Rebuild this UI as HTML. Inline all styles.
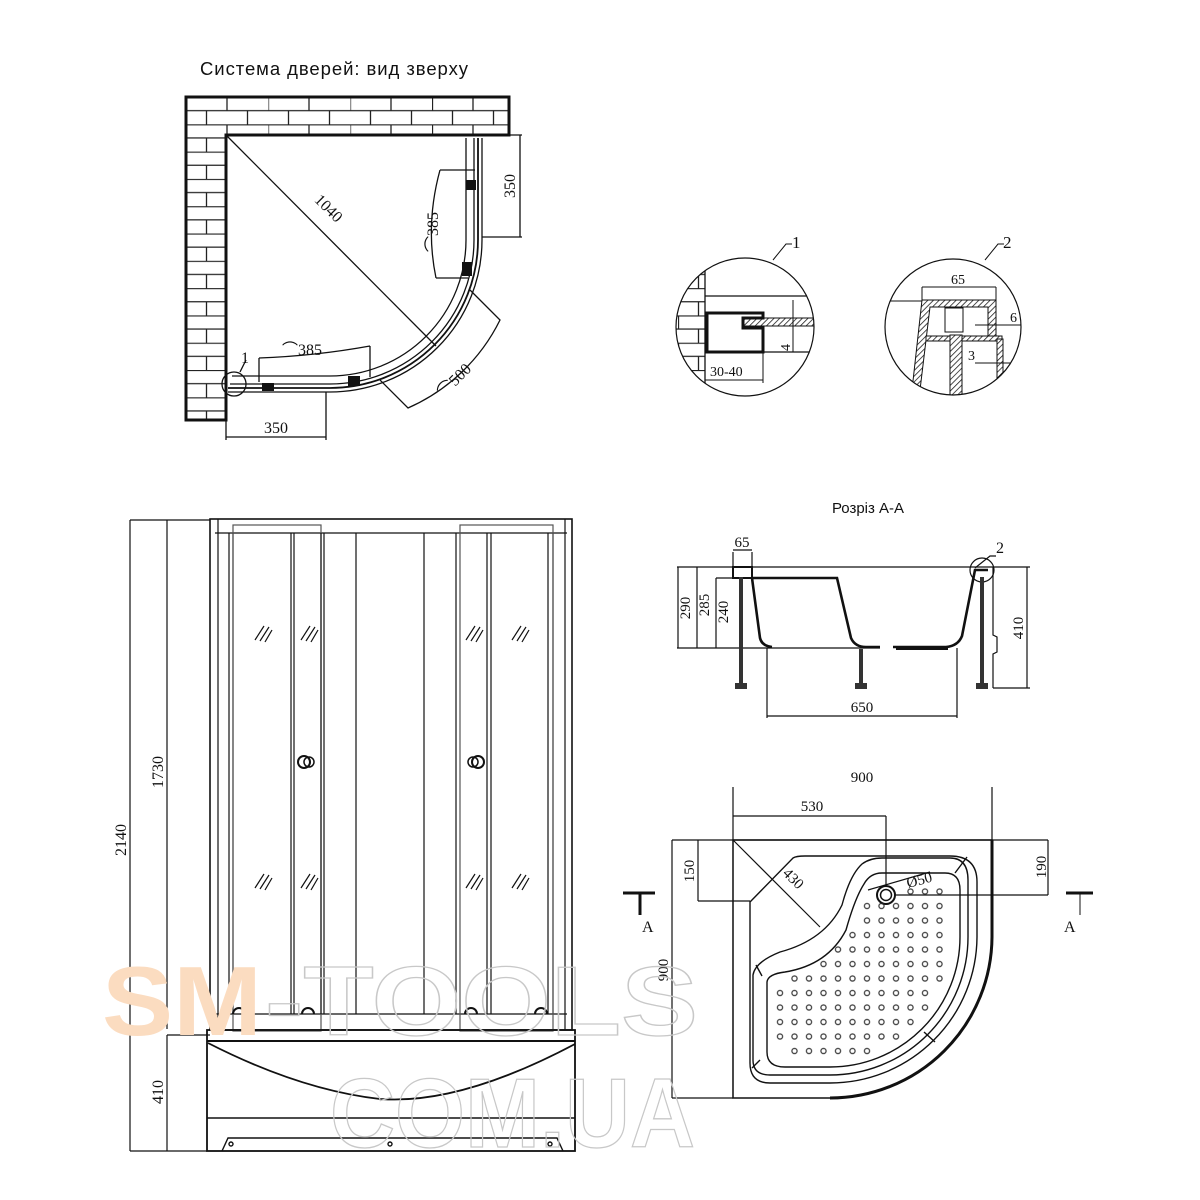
<!DOCTYPE html>
<html><head><meta charset="utf-8"><style>
html,body{margin:0;padding:0;background:#fff}
svg{display:block}
text{font-family:"Liberation Serif",serif;fill:#111}
.s{font-family:"Liberation Sans",sans-serif}
</style></head><body>
<svg width="1200" height="1200" viewBox="0 0 1200 1200" xmlns="http://www.w3.org/2000/svg">
<defs>
<pattern id="brick" patternUnits="userSpaceOnUse" x="186" y="97" width="82" height="27.3">
<rect width="82" height="27.3" fill="#fff"/>
<path d="M0 0.5H82M0 13.65H82M0.5 0V13.65M41 0V13.65M20.5 13.65V27.3M61.5 13.65V27.3" stroke="#222" stroke-width="1.3" fill="none"/>
</pattern>
<pattern id="hatch" patternUnits="userSpaceOnUse" width="4" height="4" patternTransform="rotate(45)">
<rect width="4" height="4" fill="#fff"/><line x1="0" y1="0" x2="0" y2="4" stroke="#111" stroke-width="1.5"/>
</pattern>
<pattern id="dots" patternUnits="userSpaceOnUse" x="772.75" y="898.75" width="14.5" height="14.5">
<circle cx="7.25" cy="7.25" r="2.6" fill="none" stroke="#222" stroke-width="1.1"/>
</pattern>
<clipPath id="c1"><circle cx="745" cy="327" r="69"/></clipPath>
<clipPath id="c2"><circle cx="953" cy="327" r="68"/></clipPath>
</defs>

<!-- Title -->
<text class="s" x="200" y="75" font-size="18.5" textLength="268">Система дверей: вид зверху</text>

<!-- Top view walls -->
<path d="M186 97H509V135H226V420H186Z" fill="url(#brick)" stroke="#111" stroke-width="3"/>
<g fill="none" stroke="#111" stroke-width="1.3">
<line x1="226" y1="135" x2="436" y2="346"/>
<!-- door lines -->
<path d="M466 138V240A136 136 0 0 1 330 376H232"/>
<path d="M474 138V240A144 144 0 0 1 330 384H230"/>
<path d="M478 138V240A148 148 0 0 1 330 388H228" stroke-width="1.8"/>
<path d="M482 138V240A152 152 0 0 1 330 392H228"/>
<!-- dims -->
<path d="M482 135H522M482 237H522M520 135V237"/>
<path d="M226 392V440M326 392V440M226 437H326"/>
<path d="M470 290L500 320A186 186 0 0 1 408 408L380 380"/>
<path d="M440 170H475M436 278H468M440 170Q425 225 436 278"/>
<path d="M259 358V382M370 346V377M259 358Q315 356 370 346"/>
<circle cx="234" cy="384" r="12"/>
<path d="M240 372L246 360"/>
</g>
<g fill="#111">
<rect x="466" y="180" width="10" height="10"/><rect x="462" y="262" width="10" height="14"/>
<rect x="348" y="376" width="12" height="10"/><rect x="262" y="383" width="12" height="8"/>
</g>
<text x="515" y="186" font-size="16" transform="rotate(-90 515 186)" text-anchor="middle">350</text>
<text x="276" y="433" font-size="16" text-anchor="middle">350</text>
<text x="325" y="212" font-size="16" transform="rotate(45 325 212)" text-anchor="middle">1040</text>
<text x="438" y="232" font-size="16" transform="rotate(-90 438 232)" text-anchor="middle">⌒385</text>
<text x="302" y="355" font-size="16" text-anchor="middle">⌒385</text>
<text x="458" y="384" font-size="16" transform="rotate(-45 458 384)" text-anchor="middle">⌒500</text>
<text x="241" y="363" font-size="16">1</text>

<!-- Detail 1 -->
<g clip-path="url(#c1)">
<rect x="670" y="250" width="35" height="160" fill="url(#brick)"/>
<g fill="none" stroke="#111" stroke-width="1.3">
<path d="M705 250V410M705 296H820M705 352H820"/>
</g>
<rect x="743" y="318" width="78" height="8" fill="url(#hatch)" stroke="#111"/>
<path d="M707 313H763V318H743V328H763V352H707Z" fill="none" stroke="#111" stroke-width="3"/>
<path d="M793 300V352M705 380H763M763 352V383" stroke="#111" fill="none"/>
</g>
<circle cx="745" cy="327" r="69" fill="none" stroke="#111" stroke-width="1.2"/>
<path d="M773 260L786 244H792" stroke="#111" fill="none"/>
<text x="792" y="248" font-size="17">1</text>
<text x="785" y="346" font-size="14" transform="rotate(-90 790 346)">4</text>
<text x="710" y="376" font-size="14">30-40</text>

<!-- Detail 2 -->
<g clip-path="url(#c2)">
<path d="M885 301H925" stroke="#111"/>
<path d="M922 300H996V339H988V307H930L920 390H912Z" fill="url(#hatch)" stroke="#111"/>
<rect x="945" y="308" width="18" height="24" fill="#fff" stroke="#111"/>
<rect x="926" y="336" width="76" height="5" fill="url(#hatch)" stroke="#111"/>
<rect x="997" y="339" width="6" height="60" fill="url(#hatch)" stroke="#111"/>
<rect x="950" y="335" width="12" height="70" fill="url(#hatch)" stroke="#111"/>
<path d="M922 287H996M922 287V300M996 287V300M975 325H1025M975 363H1025" stroke="#111" fill="none"/>
</g>
<circle cx="953" cy="327" r="68" fill="none" stroke="#111" stroke-width="1.2"/>
<path d="M985 260L998 244H1004" stroke="#111" fill="none"/>
<text x="1003" y="248" font-size="17">2</text>
<text x="958" y="284" font-size="14" text-anchor="middle">65</text>
<text x="1010" y="322" font-size="14">6</text>
<text x="968" y="360" font-size="14">3</text>

<!-- Section A-A -->
<text class="s" x="868" y="513" font-size="15" text-anchor="middle">Розріз А-А</text>
<g fill="none" stroke="#111" stroke-width="1.2">
<path d="M677 567H1030M677 648H880M697 567V648M716 578V648M678 567V648M697 567H733M716 578H752"/>
<path d="M733 552V567M752 552V567M733 550H752"/>
<path d="M1027 567V688M993 688H1030"/>
<path d="M767 648V718M957 648V718M767 716H957"/>
<path d="M975 568L990 556H996" />
<circle cx="982" cy="570" r="12"/>
<path d="M993 567V635L997 637V652L993 654V688"/>
</g>
<path d="M733 567H752V578H733Z" fill="#fff" stroke="#111" stroke-width="2"/>
<path d="M752 578H837L851 638Q855 647 866 647H880M752 578L760 638Q762 646 772 647" fill="none" stroke="#111" stroke-width="2.6"/>
<path d="M893 647H946Q958 646 962 636L975 570H988" fill="none" stroke="#111" stroke-width="2.6"/>
<path d="M896 649H948" stroke="#111" stroke-width="2"/>
<g fill="#333">
<rect x="739" y="577" width="4" height="106"/><rect x="859" y="649" width="4" height="34"/><rect x="980" y="577" width="4" height="106"/>
<rect x="735" y="683" width="12" height="6"/><rect x="855" y="683" width="12" height="6"/><rect x="976" y="683" width="12" height="6"/>
</g>
<text x="742" y="547" font-size="15" text-anchor="middle">65</text>
<text x="996" y="553" font-size="16">2</text>
<text x="690" y="608" font-size="15" transform="rotate(-90 690 608)" text-anchor="middle">290</text>
<text x="709" y="605" font-size="15" transform="rotate(-90 709 605)" text-anchor="middle">285</text>
<text x="728" y="612" font-size="15" transform="rotate(-90 728 612)" text-anchor="middle">240</text>
<text x="1023" y="628" font-size="15" transform="rotate(-90 1023 628)" text-anchor="middle">410</text>
<text x="862" y="712" font-size="15" text-anchor="middle">650</text>

<!-- Tray plan -->
<g fill="none" stroke="#111" stroke-width="1.2">
<path d="M672 840H1048M733 787V1098M992 787V840M733 816H886M886 816V895M895 895H1048M1048 840V895M698 840V901M698 901H750M672 840V1098M672 1098H733"/>
<path d="M733 840L820 927"/>
<path d="M868 890L930 872"/>
</g>
<path d="M733 840H992V937A162 162 0 0 1 830 1098H733Z" fill="none" stroke="#111" stroke-width="1.4"/>
<path d="M992 840V937A162 162 0 0 1 830 1098" fill="none" stroke="#111" stroke-width="3"/>
<g fill="none" stroke="#111" stroke-width="1.4">
<path d="M750 902L793 858Q796 856 805 856H950Q977 856 977 882V937A147 147 0 0 1 830 1083H770Q750 1083 750 1063Z"/>
<path d="M753 1060V975Q755 962 780 952Q825 940 842 905Q850 875 862 864Q870 858 882 858H950Q968 858 968 880V937A138 138 0 0 1 830 1075H770Q753 1075 753 1060Z"/>
<path d="M767 1052V982Q768 974 785 972Q828 965 846 930Q855 898 864 884Q870 873 882 873H945Q960 873 960 890V937A130 130 0 0 1 830 1067H785Q767 1067 767 1052Z"/>
<path d="M955 873L967 857M762 976L756 965M760 1060L752 1068M924 1032L935 1042"/>
</g>
<circle cx="886" cy="895" r="9" fill="#fff" stroke="#111" stroke-width="2"/>
<circle cx="886" cy="895" r="5.5" fill="none" stroke="#111" stroke-width="1.5"/>
<g fill="url(#dots)">
<rect x="903" y="884" width="45" height="14"/>
<rect x="860" y="899" width="88" height="14"/>
<rect x="860" y="913" width="88" height="14"/>
<rect x="846" y="928" width="102" height="14"/>
<rect x="831" y="942" width="117" height="14"/>
<rect x="817" y="957" width="131" height="14"/>
<rect x="788" y="971" width="160" height="14"/>
<rect x="773" y="986" width="160" height="14"/>
<rect x="773" y="1000" width="160" height="14"/>
<rect x="773" y="1015" width="146" height="14"/>
<rect x="773" y="1029" width="131" height="14"/>
<rect x="788" y="1044" width="88" height="14"/>
</g>
<text x="862" y="782" font-size="15" text-anchor="middle">900</text>
<text x="812" y="811" font-size="15" text-anchor="middle">530</text>
<text x="1046" y="867" font-size="15" transform="rotate(-90 1046 867)" text-anchor="middle">190</text>
<text x="694" y="871" font-size="15" transform="rotate(-90 694 871)" text-anchor="middle">150</text>
<text x="668" y="970" font-size="15" transform="rotate(-90 668 970)" text-anchor="middle">900</text>
<text x="790" y="882" font-size="15" transform="rotate(45 790 882)" text-anchor="middle">430</text>
<text x="908" y="888" font-size="15" transform="rotate(-15 908 888)">Ø50</text>
<path d="M623 893H655M640 893V915" stroke="#111" stroke-width="3"/>
<path d="M640 893V915" stroke="#111" stroke-width="1"/>
<path d="M1066 893H1093" stroke="#111" stroke-width="3"/>
<path d="M1080 893V915" stroke="#111" stroke-width="1"/>
<text x="642" y="932" font-size="16">A</text>
<text x="1064" y="932" font-size="16">A</text>

<!-- Front view -->
<g fill="none" stroke="#111" stroke-width="1.2">
<path d="M130 520H210M167 1035H210M130 1151H207M130 520V1151M167 520V1029M167 1035V1151"/>
<rect x="210" y="519" width="362" height="511" stroke-width="1.6"/>
<path d="M215 533H567M215 1014H567M218 519V1030M565 519V1030"/>
<path d="M229 533V1014M233 533V1014M291 533V1014M294 533V1014M356 533V1014M424 533V1014M456 533V1014M548 533V1014M553 533V1014"/>
<rect x="233" y="525" width="88" height="506" stroke="#555"/>
<rect x="460" y="525" width="93" height="506" stroke="#555"/>
<path d="M321 533V1014M324 533V1014M487 533V1014M491 533V1014"/>
<path d="M255 640L264 626M260 641L269 627M265 642L272 630M301 640L310 626M306 641L315 627M311 642L318 630M466 640L475 626M471 641L480 627M476 642L483 630M512 640L521 626M517 641L526 627M522 642L529 630"/>
<path d="M255 888L264 874M260 889L269 875M265 890L272 878M301 888L310 874M306 889L315 875M311 890L318 878M466 888L475 874M471 889L480 875M476 890L483 878M512 888L521 874M517 889L526 875M522 890L529 878"/>
<circle cx="304" cy="762" r="6" stroke-width="2"/><circle cx="309" cy="762" r="5" stroke-width="1.5"/>
<circle cx="473" cy="762" r="5" stroke-width="1.5"/><circle cx="478" cy="762" r="6" stroke-width="2"/>
<path d="M233 1014A6 6 0 0 1 245 1014M302 1014A6 6 0 0 1 314 1014M465 1014A6 6 0 0 1 477 1014M535 1014A6 6 0 0 1 547 1014" stroke-width="2"/>
</g>
<g fill="none" stroke="#111" stroke-width="1.4">
<rect x="207" y="1030" width="368" height="121" stroke-width="1.8"/>
<path d="M207 1041H575" stroke-width="2"/>
<path d="M208 1043Q300 1090 380 1099Q460 1105 575 1044" stroke-width="1.8"/>
<path d="M207 1118H575"/>
<path d="M222 1151L228 1138H557L563 1151"/>
<circle cx="231" cy="1144" r="2"/><circle cx="390" cy="1144" r="2"/><circle cx="550" cy="1144" r="2"/>
</g>
<text x="126" y="840" font-size="16" transform="rotate(-90 126 840)" text-anchor="middle">2140</text>
<text x="163" y="772" font-size="16" transform="rotate(-90 163 772)" text-anchor="middle">1730</text>
<text x="163" y="1092" font-size="16" transform="rotate(-90 163 1092)" text-anchor="middle">410</text>

<!-- Watermark -->
<text class="s" x="102" y="1035" font-size="98" font-weight="bold" textLength="160" lengthAdjust="spacingAndGlyphs" style="fill:#fbdcc0">SM</text>
<text class="s" x="265" y="1035" font-size="98" font-weight="bold" textLength="433" lengthAdjust="spacingAndGlyphs" style="fill:none;stroke:#c8c8c8;stroke-width:1.3">-TOOLS</text>
<text class="s" x="330" y="1147" font-size="98" font-weight="bold" textLength="365" lengthAdjust="spacingAndGlyphs" style="fill:none;stroke:#c8c8c8;stroke-width:1.3">COM.UA</text>
</svg>
</body></html>
